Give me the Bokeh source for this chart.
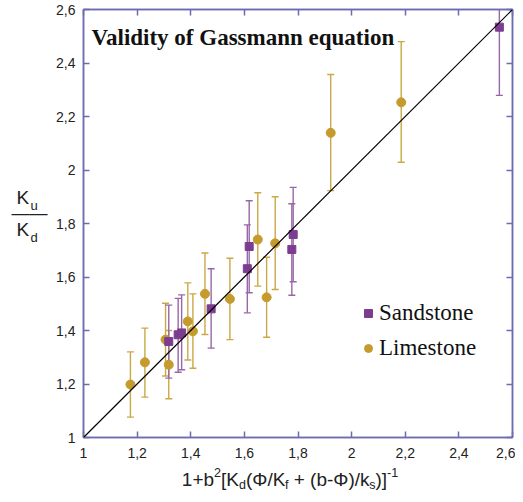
from bokeh.plotting import figure
from bokeh.layouts import row, column
from bokeh.models import (Range1d, FixedTicker, CustomJSTickFormatter, LinearAxis,
                          Label, Legend, LegendItem, Slope, ColumnDataSource)
from bokeh.embed import file_html
from bokeh.resources import INLINE

# ---------------- data ----------------
sand_x = [1.318, 1.353, 1.366, 1.476, 1.611, 1.618, 1.777, 1.782, 2.551]
sand_y = [1.359, 1.384, 1.391, 1.481, 1.631, 1.714, 1.703, 1.759, 2.534]
sand_lo = [1.222, 1.244, 1.253, 1.334, 1.466, 1.541, 1.532, 1.582, 2.279]
sand_hi = [1.495, 1.520, 1.533, 1.631, 1.795, 1.885, 1.874, 1.935, 2.790]

lime_x = [1.175, 1.229, 1.306, 1.318, 1.389, 1.408, 1.453, 1.546, 1.650, 1.683, 1.715, 1.922, 2.185]
lime_y = [1.198, 1.281, 1.366, 1.272, 1.434, 1.397, 1.537, 1.518, 1.740, 1.524, 1.726, 2.139, 2.253]
lime_lo = [1.076, 1.151, 1.230, 1.145, 1.290, 1.259, 1.385, 1.366, 1.566, 1.375, 1.553, 1.923, 2.029]
lime_hi = [1.320, 1.409, 1.502, 1.400, 1.578, 1.537, 1.690, 1.670, 1.915, 1.674, 1.900, 2.357, 2.480]

tick_values = [1.0, 1.2, 1.4, 1.6, 1.8, 2.0, 2.2, 2.4, 2.6]
series_names = ["Sandstone", "Limestone"]
title_text = "Validity of Gassmann equation"

# ---------------- styles / layout ----------------
AXIS_COLOR = "#6c6cb0"
SAND_COLOR = "#7c3d90"
SAND_BAR = "#9866a8"
LIME_COLOR = "#c59b2e"
LIME_BAR = "#cba846"
TEXT_COLOR = "#222222"
SANS = "Liberation Sans"
SERIF = "Liberation Serif"

W, H = 515, 494          # whole page content
YW = 50                  # width of the strip holding the y label
MH = 464                 # height of the main figure
FL, FR, FT, FB = 83, 512, 9, 437          # frame edges in page pixels
X0, X1, Y0, Y1 = 1.0, 2.6, 1.0, 2.6


def dx(px):
    return X0 + (px - FL) * (X1 - X0) / (FR - FL)


def dy(py):
    return Y0 + (FB - py) * (Y1 - Y0) / (FB - FT)


p = figure(width=W - YW, height=MH, output_backend="svg", toolbar_location=None,
           x_range=Range1d(X0, X1), y_range=Range1d(Y0, Y1),
           x_axis_type=None, y_axis_type=None,
           min_border_left=FL - YW, min_border_right=W - FR, min_border_top=FT,
           min_border_bottom=MH - FB)
p.background_fill_color = "white"
p.border_fill_color = "white"
p.outline_line_color = AXIS_COLOR
p.outline_line_width = 1.5

fmt = CustomJSTickFormatter(code="return (Math.round(tick*10)/10).toString().replace('.', ',');")
empty = CustomJSTickFormatter(code="return '';")


def make_axis(formatter, standoff, size="14px"):
    ax = LinearAxis(ticker=FixedTicker(ticks=tick_values), formatter=formatter)
    ax.axis_line_color = AXIS_COLOR
    ax.axis_line_width = 1.5
    ax.major_tick_line_color = AXIS_COLOR
    ax.major_tick_line_width = 1.5
    ax.major_tick_in = 6
    ax.major_tick_out = 0
    ax.minor_tick_line_color = None
    ax.major_label_text_font = SANS
    ax.major_label_text_font_size = size
    ax.major_label_text_color = TEXT_COLOR
    ax.major_label_standoff = standoff
    return ax


p.add_layout(make_axis(fmt, 10), "below")
p.add_layout(make_axis(fmt, 8), "left")
p.add_layout(make_axis(empty, 0, "1px"), "above")
p.add_layout(make_axis(empty, 0, "1px"), "right")

# 1:1 line
p.add_layout(Slope(gradient=1, y_intercept=0, line_color="black", line_width=1.2))

sand = ColumnDataSource(dict(x=sand_x, y=sand_y, lo=sand_lo, hi=sand_hi))
lime = ColumnDataSource(dict(x=lime_x, y=lime_y, lo=lime_lo, hi=lime_hi))

for src, col in ((lime, LIME_BAR), (sand, SAND_BAR)):
    p.segment(x0="x", y0="lo", x1="x", y1="hi", source=src, line_color=col, line_width=1.4)
    p.scatter(x="x", y="lo", source=src, marker="dash", size=7, line_color=col, line_width=1.4)
    p.scatter(x="x", y="hi", source=src, marker="dash", size=7, line_color=col, line_width=1.4)

r_lime = p.scatter(x="x", y="y", source=lime, marker="circle", size=9,
                   fill_color=LIME_COLOR, line_color=LIME_COLOR)
r_sand = p.scatter(x="x", y="y", source=sand, marker="square", size=8,
                   fill_color=SAND_COLOR, line_color=SAND_COLOR)

legend = Legend(items=[LegendItem(label=series_names[0], renderers=[r_sand]),
                       LegendItem(label=series_names[1], renderers=[r_lime])],
                location=(358 - FL, FB - 361), padding=0, margin=0, spacing=9,
                glyph_width=20, glyph_height=20, label_height=20, label_standoff=1,
                border_line_color=None, background_fill_alpha=0,
                label_text_font=SERIF, label_text_font_size="23px", label_text_color="#111111")
p.add_layout(legend)

# title inside plot
p.add_layout(Label(x=dx(91), y=dy(37), text=title_text, text_font=SERIF,
                   text_font_size="23px", text_font_style="bold", text_color="#111111",
                   text_baseline="alphabetic"))


def strip(width, height):
    f = figure(width=width, height=height, output_backend="svg", toolbar_location=None,
               x_range=Range1d(0, width), y_range=Range1d(height, 0),
               x_axis_type=None, y_axis_type=None, min_border=0)
    f.outline_line_color = None
    f.background_fill_color = "white"
    f.border_fill_color = "white"
    f.grid.visible = False
    return f


def add_text(f, t, px, py, size):
    f.add_layout(Label(x=px, y=py, text=t, text_font=SANS, text_font_size=size,
                       text_color=TEXT_COLOR, text_baseline="alphabetic", text_align="left"))


# y-axis label as fraction K_u / K_d (strip at page x 0..YW, y 0..MH)
yf = strip(YW, MH)
add_text(yf, "K", 16, 204, "19px")
add_text(yf, "u", 30, 213, "13px")
add_text(yf, "\u2014\u2014", 11, 221, "18px")
add_text(yf, "K", 16, 238, "19px")
add_text(yf, "d", 30, 247, "13px")

# x-axis label with sub/superscripts (strip at page y MH..H)
xf = strip(W, H - MH)
NBSP = "\u00a0"
ARIAL = {'1': 556, '2': 556, '+': 584, 'b': 556, '[': 278, ']': 278, 'K': 667, 'd': 556,
         '(': 333, ')': 333, '\u03a6': 778, '/': 278, 'f': 278, ' ': 278, NBSP: 278,
         '-': 333, 'k': 500, 's': 500}
xparts = [("1+b", "n"), ("2", "sup"), ("[K", "n"), ("d", "sub"), ("(\u03a6/K", "n"),
          ("f", "sub"), (NBSP + "+ (b-\u03a6)/k", "n"), ("s", "sub"), (")]", "n"), ("-1", "sup")]
MAIN, SMALL = 19, 12.5
widths = [sum(ARIAL.get(c, 556) for c in t) / 1000 * (MAIN if k == "n" else SMALL)
          for t, k in xparts]
cur = 289.5 - sum(widths) / 2
base = 479 - MH
for (t, k), w in zip(xparts, widths):
    shift = {"n": 0, "sup": -7, "sub": 5}[k]
    add_text(xf, t, cur, base + shift, f"{MAIN if k == 'n' else SMALL}px")
    cur += w

layout = column(row(yf, p, spacing=0), xf, spacing=0)
open("out.html", "w").write(file_html(layout, INLINE))
